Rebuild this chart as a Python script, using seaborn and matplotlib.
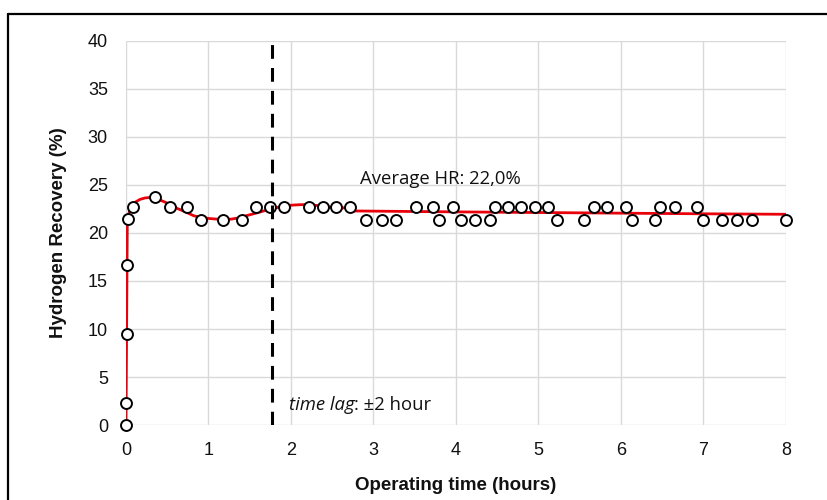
import matplotlib
matplotlib.use("Agg")
import matplotlib.pyplot as plt
import seaborn as sns
import pandas as pd
from matplotlib.lines import Line2D

# ---- data ----
time_h = [0.0, 0.005, 0.01, 0.015, 0.02, 0.08, 0.35, 0.53, 0.74, 0.91, 1.17, 1.41,
          1.58, 1.75, 1.91, 2.22, 2.39, 2.55, 2.71, 2.91, 3.10, 3.27, 3.51, 3.72,
          3.79, 3.96, 4.06, 4.23, 4.41, 4.47, 4.63, 4.79, 4.96, 5.12, 5.22, 5.55,
          5.67, 5.83, 6.06, 6.13, 6.41, 6.47, 6.65, 6.92, 6.99, 7.22, 7.41, 7.59, 8.0]
hr_pct = [0.0, 2.3, 9.5, 16.7, 21.5, 22.7, 23.8, 22.7, 22.7, 21.4, 21.4, 21.4,
          22.7, 22.7, 22.7, 22.7, 22.7, 22.7, 22.7, 21.4, 21.4, 21.4, 22.7, 22.7,
          21.4, 22.7, 21.4, 21.4, 21.4, 22.7, 22.7, 22.7, 22.7, 22.7, 21.4, 21.4,
          22.7, 22.7, 22.7, 21.4, 21.4, 22.7, 22.7, 22.7, 21.4, 21.4, 21.4, 21.4, 21.4]

# red trend line, first (smoothed) part
fit1_t = [0.0, 0.016, 0.04, 0.069, 0.11, 0.17, 0.23, 0.29, 0.37, 0.45, 0.53, 0.61,
          0.72, 0.82, 0.92, 1.02, 1.10, 1.18, 1.28, 1.38, 1.48, 1.59, 1.67, 1.75,
          1.83, 1.91, 2.01, 2.11, 2.19, 2.27, 2.40, 2.52, 2.62, 2.71]
fit1_v = [0.0, 21.4, 22.2, 22.8, 23.2, 23.5, 23.65, 23.7, 23.6, 23.3, 23.0, 22.6,
          22.2, 21.8, 21.6, 21.5, 21.45, 21.4, 21.45, 21.6, 21.85, 22.1, 22.3, 22.5,
          22.65, 22.8, 22.9, 22.95, 22.95, 22.9, 22.8, 22.65, 22.6, 22.7]
# red trend line, second (flat) part
fit2_t = [2.71, 4.0, 5.5, 7.0, 8.0]
fit2_v = [22.3, 22.2, 22.1, 22.0, 21.95]

lag_x = 1.77
x_ticks = [0, 1, 2, 3, 4, 5, 6, 7, 8]
y_ticks = [0, 5, 10, 15, 20, 25, 30, 35, 40]

sns.set_theme(style="white")
plt.rcParams["font.family"] = ["Liberation Sans", "DejaVu Sans"]

fig = plt.figure(figsize=(8.28, 5.0), dpi=100)
ax = fig.add_axes([126 / 828, 1 - 425 / 500, (786 - 126) / 828, (425 - 41) / 500])

pts = pd.DataFrame({"t": time_h, "hr": hr_pct})
f1 = pd.DataFrame({"t": fit1_t, "v": fit1_v})
f2 = pd.DataFrame({"t": fit2_t, "v": fit2_v})

red = "#e8000b"
sns.lineplot(data=f1, x="t", y="v", ax=ax, color=red, lw=2.0, sort=False,
             estimator=None, zorder=3)
sns.lineplot(data=f2, x="t", y="v", ax=ax, color=red, lw=2.0, sort=False,
             estimator=None, zorder=3)
sns.scatterplot(data=pts, x="t", y="hr", ax=ax, s=62, facecolor="white",
                edgecolor="black", linewidth=1.4, zorder=4, clip_on=False)

ax.axvline(lag_x, color="black", lw=2.2, ls=(0, (4.5, 3)), zorder=5)

ax.set_xlim(0, 8)
ax.set_ylim(0, 40)
ax.set_xticks(x_ticks)
ax.set_yticks(y_ticks)
ax.grid(True, color="#d9d9d9", lw=1.0)
ax.set_axisbelow(True)
for s in ax.spines.values():
    s.set_visible(False)
ax.tick_params(axis="both", length=0, labelsize=13, colors="#111111")
ax.tick_params(axis="y", pad=13)
ax.tick_params(axis="x", pad=12)

ax.set_xlabel("Operating time (hours)", fontsize=13.5, fontweight="bold",
              labelpad=13, color="#111111")
ax.set_ylabel("Hydrogen Recovery (%)", fontsize=13.5, fontweight="bold",
              labelpad=15, color="#111111")

ax.text(2.84, 25.6, "Average HR: 22,0%", fontsize=13.3, color="#111111",
        ha="left", va="center", family=["Open Sans", "DejaVu Sans"])
t1 = ax.text(1.97, 2.1, "time lag", fontsize=13.3, style="italic", color="#111111",
             ha="left", va="center", family=["Open Sans", "DejaVu Sans"])
ax.annotate(": \u00b12 hour", xy=(1, 0.5), xycoords=t1, fontsize=13.3,
            color="#111111", ha="left", va="center",
            family=["Open Sans", "DejaVu Sans"])

# outer frame (left and top edges visible)
fig.add_artist(Line2D([8 / 828, 8 / 828], [0, 1 - 14 / 500], color="black", lw=1.6,
                      transform=fig.transFigure))
fig.add_artist(Line2D([8 / 828, 1], [1 - 14 / 500, 1 - 14 / 500], color="black", lw=1.6,
                      transform=fig.transFigure))

fig.savefig("out.png", dpi=100)
